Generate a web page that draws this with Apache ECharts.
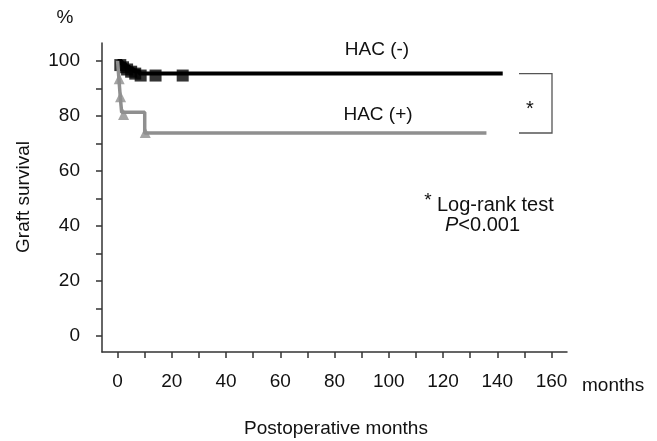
<!DOCTYPE html>
<html>
<head>
<meta charset="utf-8">
<title>Graft survival</title>
<script src="https://cdn.jsdelivr.net/npm/echarts@6/dist/echarts.min.js"></script>
<style>
	html, body { margin: 0; padding: 0; background: #fff; }
	#chart { width: 657px; height: 441px; }
</style>
</head>
<body>
<div id="chart"></div>
<script>
	// tick labels
	var xLabelValues = [0, 20, 40, 60, 80, 100, 120, 140, 160];
	var xTickValues = [0, 10, 20, 30, 40, 50, 60, 70, 80, 90, 100, 110, 120, 130, 140, 150, 160];
	var yLabelValues = [0, 20, 40, 60, 80, 100];
	var yTickValues = [0, 10, 20, 30, 40, 50, 60, 70, 80, 90, 100];

	// HAC (-) : Kaplan-Meier steps and censor marks
	var hacNegTime = [0, 1.5, 3, 4.5, 6, 8, 142];
	var hacNegSurv = [100, 98.8, 97.8, 97, 96.2, 95.4, 95.4];
	var hacNegCensorTime = [1, 2, 3.5, 5, 6.5, 8.5, 14, 24];
	var hacNegCensorSurv = [99.2, 98.4, 97.6, 96.8, 96.1, 95.4, 95.4, 95.4];

	// HAC (+)
	var hacPosTime = [0, 0.5, 1, 1.5, 10, 136];
	var hacPosSurv = [100, 93.3, 86.7, 81.3, 73.8, 73.8];
	var hacPosCensorTime = [0.6, 1.1, 2.2, 10.2];
	var hacPosCensorSurv = [93.5, 87, 80.5, 74];

	function pairs(xs, ys) {
		return xs.map(function (x, i) { return [x, ys[i]]; });
	}

	var font = "'Liberation Sans', Arial, sans-serif";
	var axisColor = '#333';

	var myChart = echarts.init(document.getElementById('chart'));

	var option = {
		animation: false,
		backgroundColor: '#fff',
		textStyle: { fontFamily: font },
		grid: { left: 102, right: 90, top: 43, bottom: 89 },
		xAxis: {
			type: 'value',
			min: -5.75,
			max: 165.7,
			splitLine: { show: false },
			axisLine: { show: true, onZero: false, lineStyle: { color: axisColor, width: 1.5 } },
			axisTick: { show: true, length: 6, customValues: xTickValues, lineStyle: { color: axisColor, width: 1.5 } },
			axisLabel: { customValues: xLabelValues, margin: 20, color: '#111', fontSize: 19, fontFamily: font }
		},
		yAxis: {
			type: 'value',
			min: -5.8,
			max: 106.5,
			splitLine: { show: false },
			axisLine: { show: true, onZero: false, lineStyle: { color: axisColor, width: 1.5 } },
			axisTick: { show: true, length: 6, customValues: yTickValues, lineStyle: { color: axisColor, width: 1.5 } },
			axisLabel: { customValues: yLabelValues, margin: 22, color: '#111', fontSize: 19, fontFamily: font }
		},
		series: [
			{
				name: 'HAC (-)',
				type: 'line',
				step: 'end',
				showSymbol: false,
				lineStyle: { color: '#000', width: 4 },
				data: pairs(hacNegTime, hacNegSurv)
			},
			{
				name: 'HAC (-) censored',
				type: 'scatter',
				symbol: 'rect',
				symbolSize: 12,
				symbolOffset: [0, 2],
				itemStyle: { color: '#000' },
				data: pairs(hacNegCensorTime, hacNegCensorSurv)
			},
			{
				name: 'HAC (+)',
				type: 'line',
				step: 'end',
				showSymbol: false,
				lineStyle: { color: '#8f8f8f', width: 3.5 },
				data: pairs(hacPosTime, hacPosSurv)
			},
			{
				name: 'HAC (+) censored',
				type: 'scatter',
				symbol: 'triangle',
				symbolSize: 11,
				itemStyle: { color: '#8f8f8f' },
				data: pairs(hacPosCensorTime, hacPosCensorSurv)
			}
		]
	};
	myChart.setOption(option);

	// bracket between the two plateaus
	var yTop = myChart.convertToPixel({ gridIndex: 0 }, [0, hacNegSurv[hacNegSurv.length - 1]])[1];
	var yBot = myChart.convertToPixel({ gridIndex: 0 }, [0, hacPosSurv[hacPosSurv.length - 1]])[1];

	function label(text, x, y, size, align, extra) {
		var style = {
			text: text, x: x, y: y,
			font: size + 'px ' + font,
			fill: '#111',
			align: align, textAlign: align,
			verticalAlign: 'middle', textVerticalAlign: 'middle'
		};
		if (extra) { for (var k in extra) style[k] = extra[k]; }
		return { type: 'text', style: style };
	}

	myChart.setOption({
		graphic: [
			label('%', 65, 18, 19, 'center'),
			label('HAC (-)', 377, 50, 19, 'center'),
			label('HAC (+)', 378, 115, 19, 'center'),
			label('*', 530, 109, 20, 'center'),
			label('*', 428, 201, 19, 'center'),
			label('Log-rank test', 437, 205, 20, 'left'),
			label('{i|P}<0.001', 445, 225, 20, 'left', {
				rich: { i: { fontStyle: 'italic', fontSize: 20, fontFamily: font, fill: '#111' } }
			}),
			label('months', 582, 386, 19, 'left'),
			label('Postoperative months', 336, 429, 19, 'center'),
			{
				type: 'text',
				x: 24, y: 197,
				rotation: Math.PI / 2,
				style: {
					text: 'Graft survival',
					font: '19px ' + font,
					fill: '#111',
					align: 'center', textAlign: 'center',
					verticalAlign: 'middle', textVerticalAlign: 'middle'
				}
			},
			{
				type: 'polyline',
				shape: { points: [[519, yTop], [552, yTop], [552, yBot], [519, yBot]] },
				style: { stroke: '#555', lineWidth: 1.3, fill: null }
			}
		]
	});
</script>
</body>
</html>
